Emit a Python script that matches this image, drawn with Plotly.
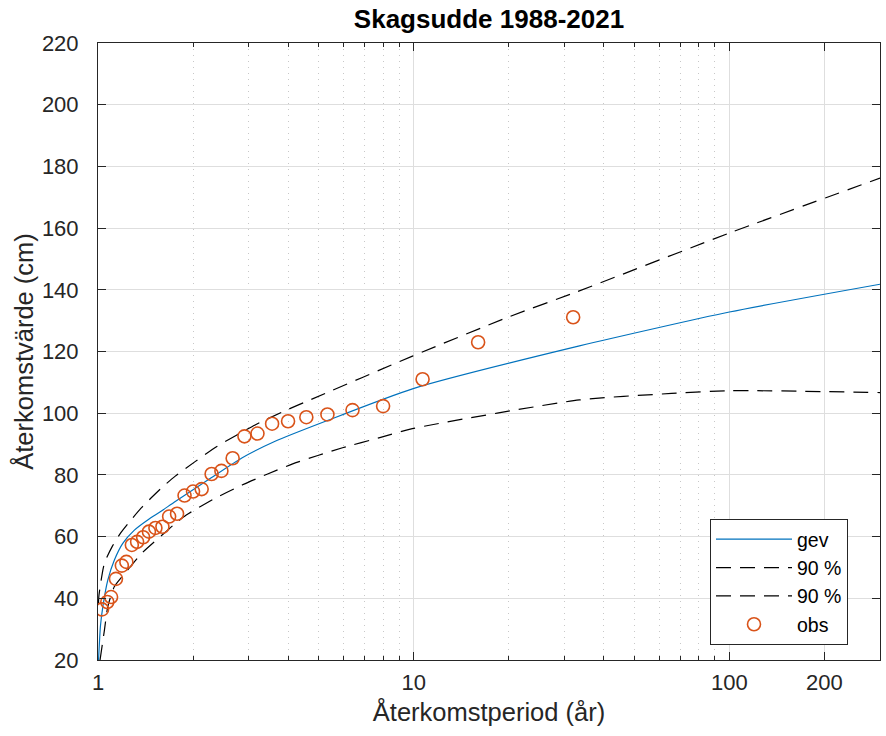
import plotly.graph_objects as go
import math

# ---- data ----
obs_T = [32.0, 16.0, 10.67, 8.0, 6.4, 5.33, 4.57, 4.0, 3.56, 3.2, 2.91, 2.67, 2.46,
         2.29, 2.13, 2.0, 1.88, 1.78, 1.68, 1.6, 1.52, 1.45, 1.39, 1.33, 1.28, 1.23,
         1.19, 1.14, 1.10, 1.07, 1.03]
obs_v = [131.1, 123.0, 111.0, 102.3, 101.0, 99.6, 98.7, 97.4, 96.6, 93.4, 92.5, 85.4,
         81.3, 80.3, 75.4, 74.6, 73.3, 67.4, 66.5, 63.2, 62.8, 61.6, 59.8, 58.3, 57.3,
         51.8, 50.6, 46.3, 40.4, 38.8, 36.4]

gev_T = [1.004, 1.018, 1.036, 1.074, 1.127, 1.198, 1.304, 1.437, 1.584, 1.757, 2.24,
         2.855, 3.64, 5.23, 9.91, 33.5, 100, 300]
gev_v = [20, 31, 37.3, 45.9, 52.4, 57.8, 62.1, 65.4, 68.2, 71.4, 78.5, 85.5, 90.9,
         97.3, 107.9, 121.8, 132.8, 141.8]

upper_T = [1.003, 1.007, 1.048, 1.112, 1.18, 1.275, 1.369, 1.472, 1.582, 1.757, 2.03,
           2.38, 3.146, 3.91, 4.62, 9.91, 20.1, 32.6, 100, 300]
upper_v = [38.0, 41.0, 51.4, 57.0, 61.2, 65.5, 69.2, 72.5, 75.6, 79.6, 84.3, 89.2,
           96.2, 100.8, 104.0, 118.5, 131.3, 139.2, 158.4, 176.2]

lower_T = [1.015, 1.048, 1.074, 1.127, 1.242, 1.382, 1.642, 1.745, 1.904, 2.367, 2.871,
           3.446, 4.119, 4.97, 5.95, 7.81, 9.90, 33.5, 65.6, 100, 300]
lower_v = [20, 29.7, 37.3, 43.8, 49.2, 54.8, 61.6, 64.0, 67.0, 72.6, 76.8, 80.3, 83.5,
           86.3, 88.8, 92.1, 95.0, 104.3, 106.4, 107.3, 106.7]

x_ticks = [1, 10, 100, 200]
x_ticktext = ["1", "10", "100", "200"]
x_minor = [2, 3, 4, 5, 6, 7, 8, 9, 20, 30, 40, 50, 60, 70, 80, 90, 300]

title = "Skagsudde 1988-2021"
xlabel = "Återkomstperiod (år)"
ylabel = "Återkomstvärde (cm)"

FONT = "Liberation Sans, Arial, sans-serif"
AX = "#262626"
DASH = "15px,9px"

fig = go.Figure()
fig.add_trace(go.Scatter(x=gev_T, y=gev_v, mode="lines", name="gev",
                         line=dict(color="#0072BD", width=1.2, shape="spline", smoothing=0.6),
                         legendgroup="a"))
fig.add_trace(go.Scatter(x=upper_T, y=upper_v, mode="lines", name="90 %",
                         line=dict(color="black", width=1.2, dash=DASH, shape="spline",
                                   smoothing=0.6),
                         legendgroup="b"))
fig.add_trace(go.Scatter(x=lower_T, y=lower_v, mode="lines", name="90 %",
                         line=dict(color="black", width=1.2, dash=DASH, shape="spline",
                                   smoothing=0.6),
                         legendgroup="c"))
fig.add_trace(go.Scatter(x=obs_T, y=obs_v, mode="markers", name="obs",
                         marker=dict(symbol="circle-open", size=13, color="#D95319",
                                     line=dict(width=1.6)),
                         legendgroup="d"))

fig.update_layout(
    width=886, height=736,
    margin=dict(l=98, r=6, t=43, b=76, autoexpand=False),
    paper_bgcolor="white", plot_bgcolor="white",
    font=dict(family=FONT, size=22, color=AX),
    title=dict(text="<b>" + title + "</b>", x=0.5, xref="paper", xanchor="center",
               y=(736 - 19) / 736, yref="container", yanchor="middle",
               font=dict(family=FONT, size=26, color="black")),
    legend=dict(x=(710 - 98) / 782, y=(660 - 519) / 617, xanchor="left", yanchor="top",
                bgcolor="white", bordercolor=AX, borderwidth=1,
                font=dict(family=FONT, size=19.5, color="black"),
                tracegroupgap=0, itemwidth=76),
    showlegend=True,
)
fig.update_xaxes(
    type="log", range=[0, math.log10(300)],
    tickmode="array", tickvals=x_ticks, ticktext=x_ticktext,
    ticks="inside", ticklen=8, tickcolor=AX, tickwidth=1,
    showline=True, linecolor=AX, linewidth=1, mirror="allticks",
    showgrid=True, gridcolor="#dedede", gridwidth=1,
    minor=dict(tickmode="array", tickvals=x_minor, ticks="inside", ticklen=4,
               tickcolor=AX, showgrid=True, gridcolor="#c8c8c8", griddash="1px,5px"),
    zeroline=False,
    ticklabelstandoff=3,
    tickfont=dict(family=FONT, size=22, color=AX),
    title=dict(text=xlabel, font=dict(family=FONT, size=25.5, color=AX), standoff=8),
)
fig.update_yaxes(
    range=[20, 220], tickmode="linear", tick0=20, dtick=20,
    ticks="inside", ticklen=8, tickcolor=AX, tickwidth=1,
    showline=True, linecolor=AX, linewidth=1, mirror="allticks",
    showgrid=True, gridcolor="#dedede", gridwidth=1,
    zeroline=False,
    ticklabelstandoff=14,
    tickfont=dict(family=FONT, size=22, color=AX),
    title=dict(text=ylabel, font=dict(family=FONT, size=25.5, color=AX), standoff=0),
)

fig.write_html("out.html", config={"displayModeBar": False},
               post_script="document.body.style.margin='0';")
